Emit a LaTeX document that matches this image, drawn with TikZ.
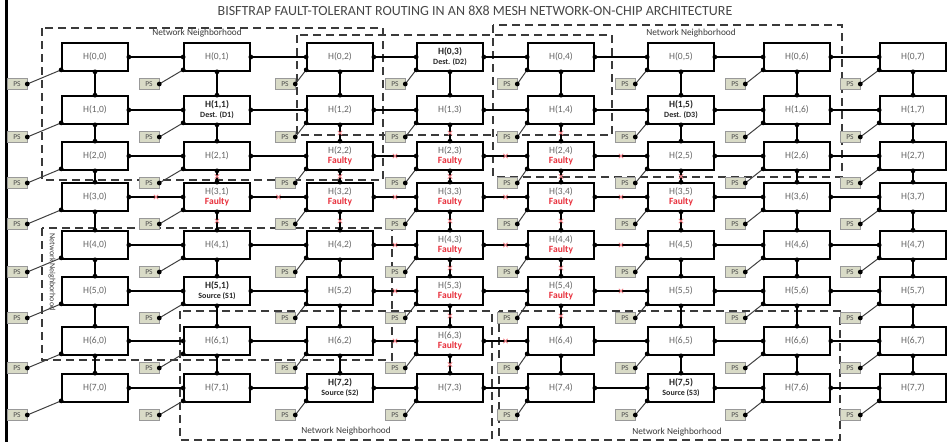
\documentclass[tikz,border=0pt]{standalone}
\usepackage{fontspec}
\setmainfont{Carlito}
\usepackage{xcolor}
\usepackage{tikz}
\usetikzlibrary{shapes.misc}

\definecolor{labelgray}{HTML}{666666}
\definecolor{faultred}{HTML}{E8303C}
\definecolor{psfill}{HTML}{D9DBC7}
\definecolor{hoodgray}{HTML}{3A3A3A}

\newcommand{\hname}[2]{\ifcsname hn#1#2\endcsname\csname hn#1#2\endcsname\else H(#1,#2)\fi}
\newcommand{\setfaulty}[2]{\expandafter\def\csname hn#1#2\endcsname{H(#1,#2)\\{\color{faultred}\bfseries Faulty}}}
\newcommand{\setspecial}[3]{\expandafter\def\csname hn#1#2\endcsname{{\color{black!85}\bfseries H(#1,#2)}\\{\color{black!85}\bfseries\fontsize{8}{9}\selectfont #3}}}

\setspecial{0}{3}{Dest. (D2)}
\setspecial{1}{1}{Dest. (D1)}
\setspecial{1}{5}{Dest. (D3)}
\setspecial{5}{1}{Source (S1)}
\setspecial{7}{2}{Source (S2)}
\setspecial{7}{5}{Source (S3)}
\setfaulty{2}{2}\setfaulty{2}{3}\setfaulty{2}{4}
\setfaulty{3}{1}\setfaulty{3}{2}\setfaulty{3}{3}\setfaulty{3}{4}\setfaulty{3}{5}
\setfaulty{4}{3}\setfaulty{4}{4}
\setfaulty{5}{3}\setfaulty{5}{4}
\setfaulty{6}{3}

\begin{document}
\begin{tikzpicture}[
    x=1pt, y=-1pt,
    hbox/.style={rectangle, draw, line width=1.7pt, fill=white, minimum width=66pt, minimum height=28pt, align=center, text=labelgray, font=\fontsize{9.5}{10}\selectfont, inner sep=1pt},
    psbox/.style={rectangle, draw=gray!80, line width=0.6pt, fill=psfill, minimum width=20pt, minimum height=11pt, inner sep=0pt, text=black!70, font=\fontsize{7.5}{8}\selectfont},
    hlink/.style={line width=1.3pt},
    vlink/.style={line width=2pt},
    pslink/.style={line width=1pt, black!75},
    hood/.style={dash pattern=on 8pt off 5pt, line width=1.5pt, hoodgray},
    hoodlabel/.style={text=hoodgray, font=\fontsize{9.3}{10}\selectfont},
    fmark/.style={cross out, draw=faultred!60, line width=0.8pt, minimum size=3.5pt, inner sep=0pt},
    title/.style={text=black!72, font=\fontsize{14}{16}\selectfont}
]
\useasboundingbox (0,0) rectangle (948,442);
\draw[line width=3pt] (6.5,0) -- (6.5,442);

\node[title] (title) at (475,10.5) {BISFTRAP FAULT-TOLERANT ROUTING IN AN 8X8 MESH NETWORK-ON-CHIP ARCHITECTURE};

\draw[hood] (42,28) rectangle (383,180);
\draw[hood] (297,35) rectangle (612,135);
\draw[hood] (493,25) rectangle (842,177);
\draw[hood] (42,228) rectangle (392,360);
\draw[hood] (180,311) rectangle (492,440);
\draw[hood] (499,311) rectangle (840,440);
\node[hoodlabel] (hoodA) at (197,33) {Network Neighborhood};
\node[hoodlabel] (hoodC) at (691,33) {Network Neighborhood};
\node[hoodlabel, font=\fontsize{8}{9}\selectfont, rotate=-90] (hoodD) at (52,272) {Network Neighborhood};
\node[hoodlabel] (hoodE) at (346,431) {Network Neighborhood};
\node[hoodlabel] (hoodF) at (677,432) {Network Neighborhood};

\foreach \r/\y in {0/57, 1/110, 2/156, 3/197, 4/245, 5/291, 6/341, 7/388}{
  \foreach \c/\x/\px in {0/95/17, 1/217/149, 2/340/285, 3/450/395, 4/561/507, 5/681/625, 6/797/735, 7/913/850}{
    \node[hbox] (h\r\c) at (\x,\y) {\hname{\r}{\c}};
    \node[psbox] (ps\r\c) at (\px,\y+27) {PS};
    \draw[pslink] (ps\r\c.east) -- ([yshift=2pt]h\r\c.south west);
    \fill (ps\r\c.east) circle (2.4pt) ([yshift=2pt]h\r\c.south west) circle (2.4pt);
  }
}

\foreach \r in {0,...,7}{
  \foreach \c [evaluate=\c as \n using int(\c+1)] in {0,...,6}{
    \draw[hlink] (h\r\c.east) -- (h\r\n.west);
    \fill (h\r\c.east) circle (2.4pt) (h\r\n.west) circle (2.4pt);
  }
}
\foreach \r [evaluate=\r as \n using int(\r+1)] in {0,...,6}{
  \foreach \c in {0,...,7}{
    \draw[vlink] (h\r\c.south) -- (h\n\c.north);
    \fill (h\r\c.south) circle (2.4pt) (h\n\c.north) circle (2.4pt);
  }
}

\foreach \a/\b in {h12/h22, h13/h23, h14/h24, h21/h31, h22/h32, h23/h33, h24/h34, h25/h35,
    h31/h41, h32/h42, h33/h43, h34/h44, h35/h45, h43/h53, h44/h54, h53/h63, h54/h64, h63/h73,
    h22/h23, h23/h24, h24/h25, h30/h31, h31/h32, h32/h33, h33/h34, h34/h35,
    h42/h43, h43/h44, h44/h45, h52/h53, h54/h55, h62/h63, h63/h64}
  \path (\a) -- node[fmark] {} (\b);

\end{tikzpicture}
\end{document}
